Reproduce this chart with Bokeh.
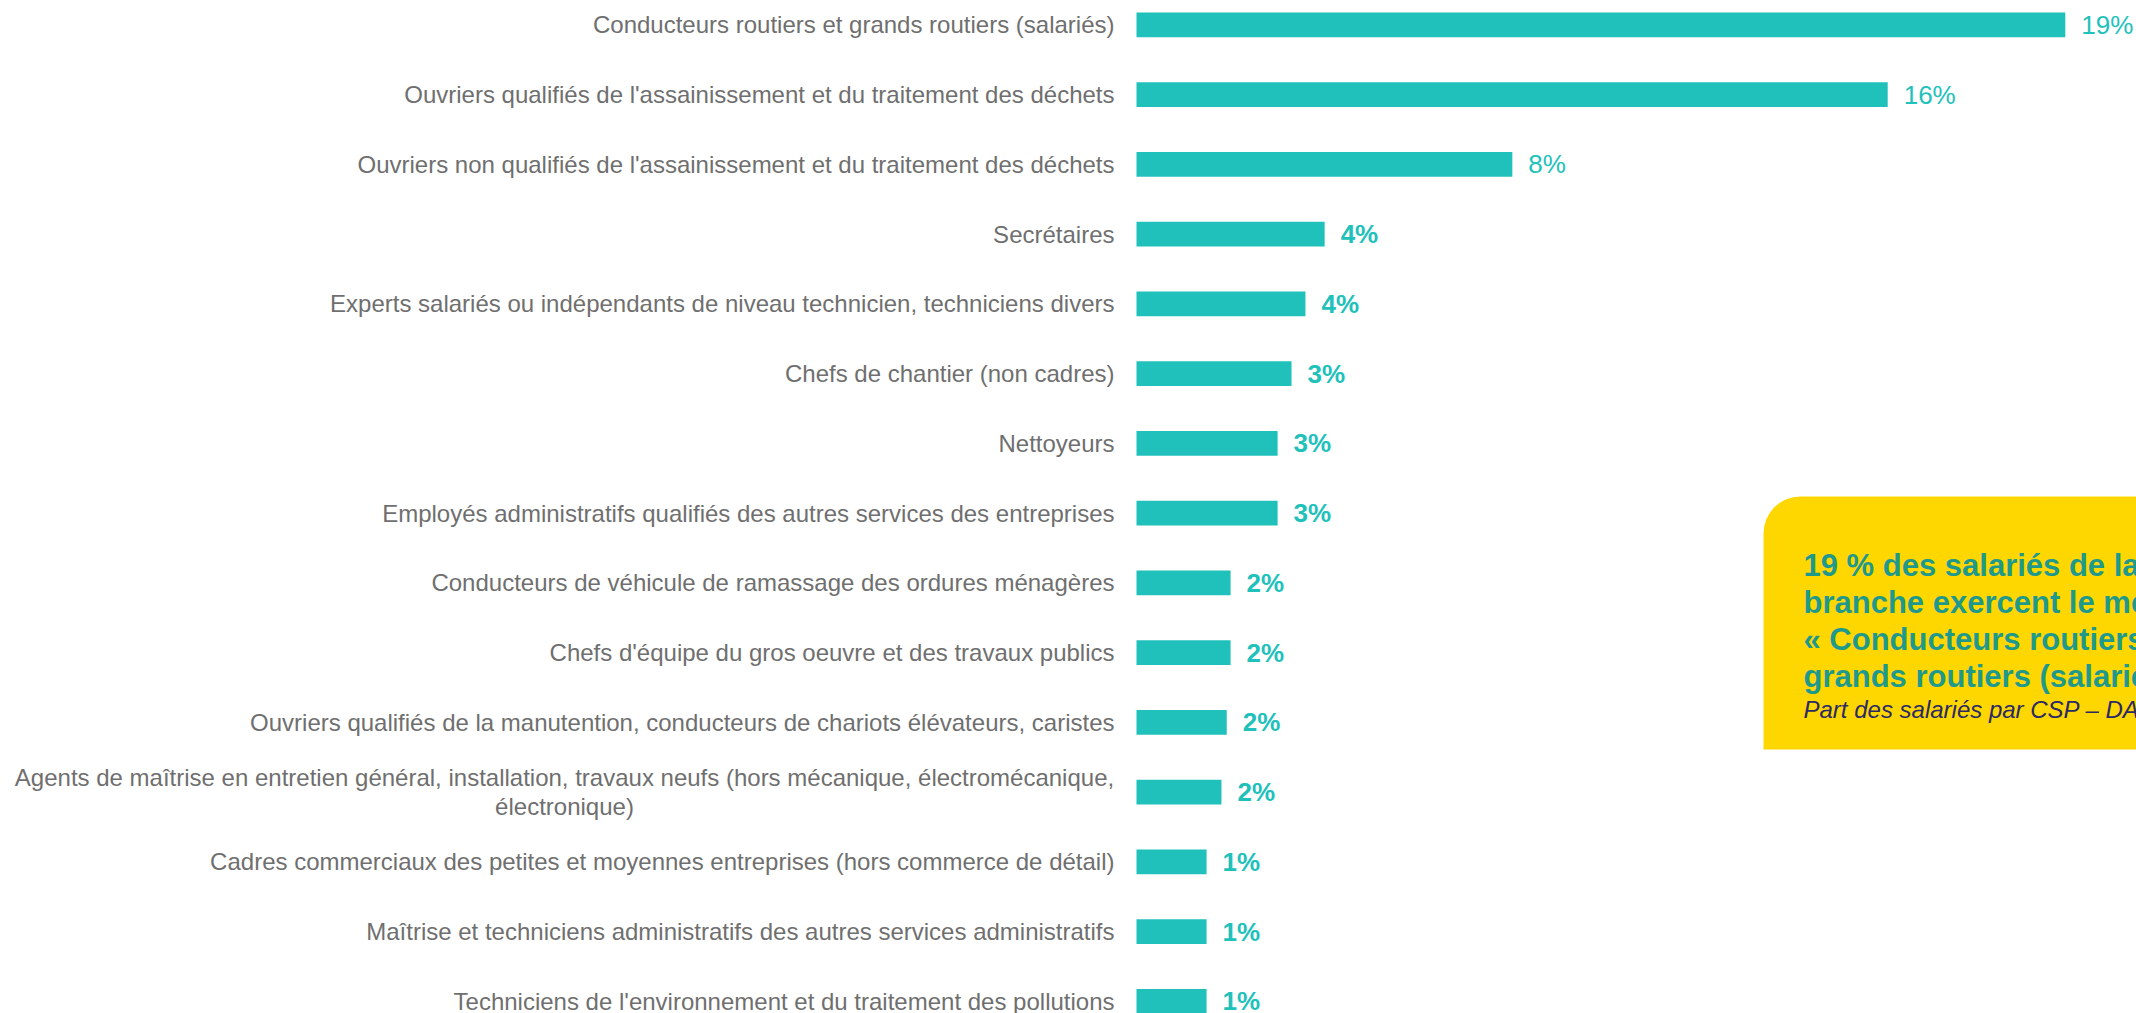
from bokeh.plotting import figure
from bokeh.models import ColumnDataSource, Range1d, BoxAnnotation
from bokeh.core.properties import value
from bokeh.embed import file_html
from bokeh.resources import INLINE

# ---------------- data ----------------
categories = [
    "Conducteurs routiers et grands routiers (salariés)",
    "Ouvriers qualifiés de l'assainissement et du traitement des déchets",
    "Ouvriers non qualifiés de l'assainissement et du traitement des déchets",
    "Secrétaires",
    "Experts salariés ou indépendants de niveau technicien, techniciens divers",
    "Chefs de chantier (non cadres)",
    "Nettoyeurs",
    "Employés administratifs qualifiés des autres services des entreprises",
    "Conducteurs de véhicule de ramassage des ordures ménagères",
    "Chefs d'équipe du gros oeuvre et des travaux publics",
    "Ouvriers qualifiés de la manutention, conducteurs de chariots élévateurs, caristes",
    "Agents de maîtrise en entretien général, installation, travaux neufs (hors mécanique, électromécanique,\nélectronique)",
    "Cadres commerciaux des petites et moyennes entreprises (hors commerce de détail)",
    "Maîtrise et techniciens administratifs des autres services administratifs",
    "Techniciens de l'environnement et du traitement des pollutions",
]
shares = [19.35, 15.65, 7.83, 3.92, 3.52, 3.23, 2.94, 2.94, 1.96, 1.96, 1.88, 1.77, 1.46, 1.46, 1.46]
share_labels = ["19%", "16%", "8%", "4%", "4%", "3%", "3%", "3%", "2%", "2%", "2%", "2%", "1%", "1%", "1%"]

callout_lines = [
    "19 % des salariés de la",
    "branche exercent le métier",
    "« Conducteurs routiers et",
    "grands routiers (salariés) »",
]
callout_source = "Part des salariés par CSP – DADS"

# ---------------- layout ----------------
W, H = 2136, 1013
PAGE = 0
X0, KX = 1136.0, 48.0      # page x of zero, px per %
Y0, KY = 24.3, 69.75       # page y of first bar centre, px per category

def dx(px):
    return (px - X0) / KX

def dy(py):
    return (py - Y0) / KY

FONT = value("Liberation Sans")
TEAL = "#21C1BB"
GREY = "#6F6F6F"

p = figure(width=W, height=H, output_backend="svg", toolbar_location=None, tools="",
           x_range=Range1d(dx(PAGE), dx(PAGE + W)),
           y_range=Range1d(dy(PAGE + H), dy(PAGE)),
           min_border=0)
p.outline_line_color = None
p.xaxis.visible = False
p.yaxis.visible = False
p.grid.visible = False
p.background_fill_color = "white"
p.border_fill_color = "white"

idx = list(range(len(categories)))

# callout box
box = BoxAnnotation(left=dx(1763), right=dx(2300), top=dy(496), bottom=dy(749),
                    fill_color="#FFD700", fill_alpha=1.0, line_color=None,
                    border_radius=(37, 0, 0, 0), level="underlay")
p.add_layout(box)

# bars
src = ColumnDataSource(dict(y=idx, v=shares, lab=share_labels,
                            style=["normal" if i < 3 else "bold" for i in idx]))
p.hbar(y="y", left=0, right="v", height=0.354, source=src, fill_color=TEAL, line_color=None)

# value labels
p.text(x="v", y="y", text="lab", source=src, x_offset=16,
       text_align="left", text_baseline="middle", text_font=FONT,
       text_font_size="26px", text_font_style="style", text_color=TEAL)

# category labels
single = [i for i in idx if "\n" not in categories[i]]
multi = [i for i in idx if "\n" in categories[i]]
s1 = ColumnDataSource(dict(y=single, t=[categories[i] for i in single], x=[0] * len(single)))
p.text(x="x", y="y", text="t", source=s1, x_offset=-22, text_align="right",
       text_baseline="middle", text_font=FONT, text_font_size="24px", text_color=GREY)
s2 = ColumnDataSource(dict(y=multi, t=[categories[i] for i in multi], x=[0] * len(multi)))
p.text(x="x", y="y", text="t", source=s2, x_offset=-22 - 550, text_align="center",
       text_baseline="middle", text_font=FONT, text_font_size="24px", text_color=GREY,
       text_line_height=1.1)

# callout texts
baselines = [565, 602, 639, 676]
s3 = ColumnDataSource(dict(x=[dx(1803)] * len(callout_lines), y=[dy(b) for b in baselines], t=callout_lines))
p.text(x="x", y="y", text="t", source=s3, text_align="left", text_baseline="alphabetic",
       text_font=FONT, text_font_size="31px", text_font_style="bold", text_color="#1E998C")
p.text(x=[dx(1803)], y=[dy(709)], text=[callout_source], text_align="left",
       text_baseline="alphabetic", text_font=FONT, text_font_size="24px",
       text_font_style="italic", text_color="#2B2A66")

open("out.html", "w").write(file_html(p, INLINE))
